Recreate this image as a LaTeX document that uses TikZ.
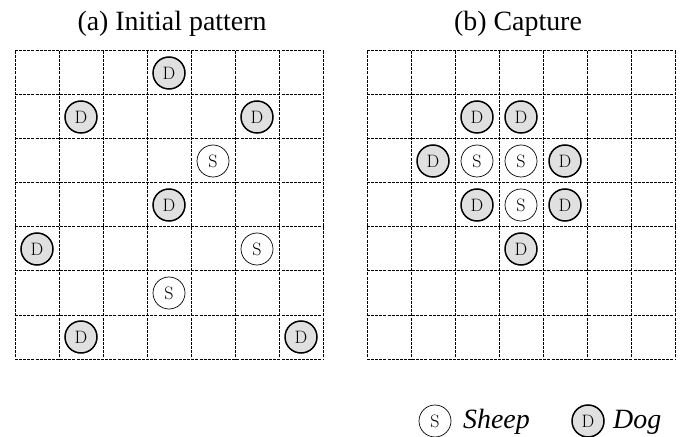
\documentclass[tikz,border=0pt]{standalone}
\usepackage{fontspec}
\newfontfamily\tfont{Liberation Serif}
\begin{document}
\begin{tikzpicture}[x=1bp,y=-1bp,
  gridline/.style={line width=1bp, dash pattern=on 3bp off 1.1bp},
  token/.style={circle, draw, minimum size=32bp, inner sep=0pt, font=\fontsize{18}{18}\selectfont},
  dog/.style={token, line width=1.5bp, fill=black!12},
  sheep/.style={token, line width=0.7bp, fill=white},
  title/.style={anchor=base, inner sep=0pt, font=\tfont\fontsize{28}{30}\selectfont},
  legendtext/.style={anchor=base west, inner sep=0pt, font=\tfont\itshape\fontsize{28}{30}\selectfont}]
\useasboundingbox (0,0) rectangle (685,437);
% grids
\foreach \ox in {15,367} {
  \foreach \k in {0,...,7} {
    \draw[gridline] ({\ox+44*\k},51) -- ({\ox+44*\k},359);
    \draw[gridline] (\ox,{51+44*\k}) -- ({\ox+308},{51+44*\k});
  }
}
% titles
\node[title] (ta) at (172,31) {(a) Initial pattern};
\node[title] (tb) at (518,31) {(b) Capture};
% pattern (a)
\foreach \c/\r/\s/\t in {3/0/dog/D,1/1/dog/D,5/1/dog/D,4/2/sheep/S,3/3/dog/D,0/4/dog/D,5/4/sheep/S,3/5/sheep/S,1/6/dog/D,6/6/dog/D}
  \node[\s] (a-\c-\r) at ({15+22+44*\c},{51+22+44*\r}) {\t};
% pattern (b)
\foreach \c/\r/\s/\t in {2/1/dog/D,3/1/dog/D,1/2/dog/D,2/2/sheep/S,3/2/sheep/S,4/2/dog/D,2/3/dog/D,3/3/sheep/S,4/3/dog/D,3/4/dog/D}
  \node[\s] (b-\c-\r) at ({367+22+44*\c},{51+22+44*\r}) {\t};
% legend
\node[sheep] (ls) at (435,421) {S};
\node[legendtext] (lst) at (463,428) {Sheep};
\node[dog] (ld) at (588,421) {D};
\node[legendtext] (ldt) at (613,428) {Dog};
\end{tikzpicture}
\end{document}
